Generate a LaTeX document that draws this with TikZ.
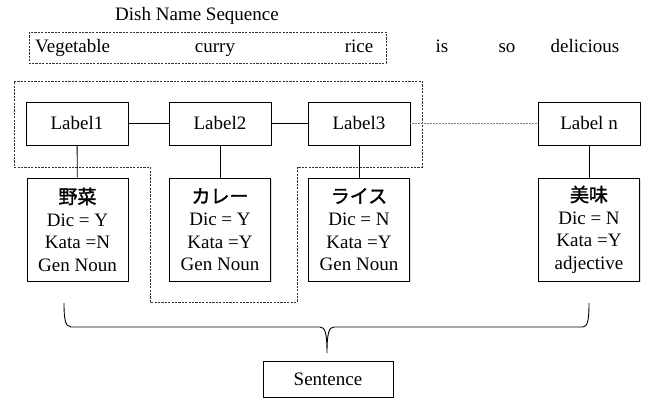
\documentclass[tikz,border=0pt]{standalone}
\usepackage{fontspec}
\setmainfont{Liberation Serif}
\newfontfamily\cjk[AutoFakeBold=1.5]{Noto Sans CJK JP}
\usetikzlibrary{shadows}
\begin{document}
\begin{tikzpicture}[x=1pt,y=-1pt,
  every node/.style={font=\fontsize{19}{22.5}\selectfont, inner sep=0pt},
  box/.style={draw, line width=0.8pt, fill=white,
    drop shadow={opacity=0.25, shadow xshift=1.2pt, shadow yshift=-1.2pt}},
  labelbox/.style={box, minimum width=102pt, minimum height=43pt},
  infobox/.style={box, minimum width=101pt, minimum height=103pt, align=center},
  link/.style={line width=0.8pt},
  dotlink/.style={line width=1.5pt, black!50, dash pattern=on 0.8pt off 0.7pt},
  group/.style={line width=0.8pt, black!80, dash pattern=on 2.2pt off 1.2pt},
  word/.style={anchor=base}]
\useasboundingbox (0,0) rectangle (654,401);

% title and the input sentence
\node[word] (title) at (197,21) {Dish Name Sequence};
\draw[group] (29,32) rectangle (386,63);
\node[anchor=base west] (w1) at (35,53) {Vegetable};
\node[word] (w2) at (215,53) {curry};
\node[word] (w3) at (359,53) {rice};
\node[word] (w4) at (442,53) {is};
\node[word] (w5) at (507,53) {so};
\node[word] (w6) at (585,53) {delicious};

% dashed outline grouping the dish-name part of the chain
\draw[group] (14,81) -- (422,81) -- (422,167) -- (297,167) -- (297,302)
  -- (150,302) -- (150,167) -- (14,167) -- cycle;

% label chain
\node[labelbox] (l1) at (77,123.5) {Label1};
\node[labelbox] (l2) at (220,123.5) {Label2};
\node[labelbox] (l3) at (359,123.5) {Label3};
\node[labelbox] (ln) at (589,123.5) {Label n};
\draw[link] (l1) -- (l2);
\draw[link] (l2) -- (l3);
\draw[dotlink] (l3) -- (ln);

% token features
\node[infobox] (d1) at (77.5,229.5) {{\cjk\bfseries 野菜}\\Dic = Y\\Kata =N\\Gen Noun};
\node[infobox] (d2) at (220,229.5) {{\cjk\bfseries カレー}\\Dic = Y\\Kata =Y\\Gen Noun};
\node[infobox] (d3) at (359,229.5) {{\cjk\bfseries ライス}\\Dic = N\\Kata =Y\\Gen Noun};
\node[infobox] (dn) at (589,229.5) {{\cjk\bfseries 美味}\\Dic = N\\Kata =Y\\adjective};
\draw[link] (l1) -- (d1);
\draw[link] (l2) -- (d2);
\draw[link] (l3) -- (d3);
\draw[link] (ln) -- (dn);

% brace collecting the tokens into a sentence
\draw[line width=0.9pt]
  (64,303) .. controls (64,318) and (65,327) .. (71,327) -- (320,327)
  .. controls (325,327) and (327,333) .. (327,353)
  .. controls (327,333) and (329,327) .. (334,327) -- (583,327)
  .. controls (588,327) and (589,318) .. (589,303);
\node[box, minimum width=130pt, minimum height=36pt] (sent) at (328,379) {Sentence};
\end{tikzpicture}
\end{document}
